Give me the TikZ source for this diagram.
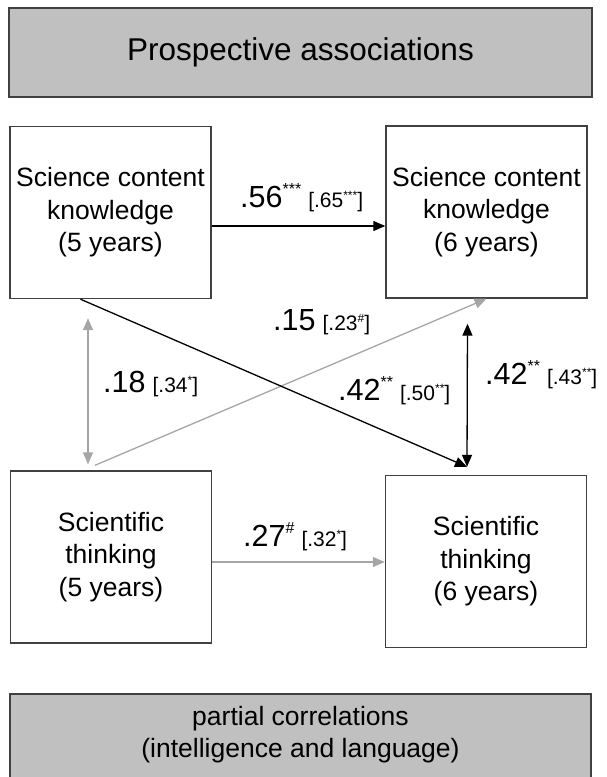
\documentclass[tikz,border=0pt]{standalone}
\usepackage{fontspec}
\setmainfont{Liberation Sans}
\usetikzlibrary{arrows.meta,calc}
\def\boxw{201}
\def\boxh{172}
\def\xleft{110.5}
\def\xright{486.5}
\definecolor{boxline}{HTML}{404040}
\definecolor{bannerfill}{HTML}{C0C0C0}
\definecolor{weakline}{HTML}{A6A6A6}
% Path coefficient: large value, then the bracketed value.
\newcommand{\bigcoef}[2]{{\fontsize{30.5}{30.5}\selectfont #1\raisebox{12.5pt}{\fontsize{16}{16}\selectfont #2}}}
\newcommand{\smallcoef}[2]{{\fontsize{21}{21}\selectfont [#1\raisebox{8pt}{\fontsize{12}{12}\selectfont #2}]}}

\begin{document}
\begin{tikzpicture}[x=1pt, y=-1pt, >={Triangle[length=12pt, width=10pt]},
    measure/.style={draw=boxline, line width=1.4pt, fill=white, minimum width=\boxw pt, minimum height=\boxh pt,
        align=center, font=\fontsize{26.5}{32.5}\selectfont, inner sep=0pt},
    banner/.style={draw=boxline, line width=1.4pt, fill=bannerfill},
    strong/.style={black, line width=1.3pt},
    weak/.style={weakline, line width=1.3pt},
    coef/.style={anchor=base west, inner sep=0pt}]
    \useasboundingbox (0,0) rectangle (606,777);

    % Header and footer bars.
    \draw[banner] (9,8) rectangle (592,97);
    \node[font=\fontsize{31.5}{31.5}\selectfont] (title) at (300.5,52) {Prospective associations};
    \draw[banner] (10,694) rectangle (591,790);
    \node[align=center, font=\fontsize{26.5}{32}\selectfont] (footer) at (300.5,735) {partial correlations\\(intelligence and language)};

    % The four measures.
    \node[measure] (sck5) at (\xleft,212.5) {Science content\\knowledge\\(5 years)};
    \node[measure] (sck6) at (\xright,212) {Science content\\knowledge\\(6 years)};
    \node[measure] (st5) at (111,557) {Scientific\\thinking\\(5 years)};
    \node[measure] (st6) at (486,561.5) {Scientific\\thinking\\(6 years)};

    % Free arrow ends just off the boxes.
    \coordinate (st6tip) at ($(st6.north)+(-19,-8)$);
    \coordinate (sck6low) at ($(sck6.south)+(-19,25)$);
    \coordinate (sck5low) at ($(sck5.south)+(-22.5,19)$);
    \coordinate (st5tip) at ($(st5.north)+(-23,-6)$);
    \coordinate (st5up) at ($(st5.north)+(-16,-5)$);
    \coordinate (sck5foot) at ($(sck5.south)+(-30,0)$);

    % Grey paths.
    \draw[weak, ->] ($(st5.east)+(0,5)$) -- ($(st6.west)+(0,0.5)$);
    \draw[weak, <->] (sck5low) -- (st5tip);
    \draw[weak, ->] (st5up) -- (sck6.south);
    % Black paths.
    \draw[strong, ->] ($(sck5.east)+(0,13.5)$) -- ($(sck6.west)+(0,14)$);
    \draw[strong, ->] (sck5foot) -- (st6tip);
    \draw[strong, <->] (sck6low) -- (st6tip);

    % Coefficients.
    \node[coef] (c56) at (240,207) {\bigcoef{.56}{***}\hspace{7pt}\smallcoef{.65}{***}};
    \node[coef] (c15) at (273,330) {\bigcoef{.15}{}\hspace{7pt}\smallcoef{.23}{\#}};
    \node[coef] (c18) at (103,392) {\bigcoef{.18}{}\hspace{7pt}\smallcoef{.34}{*}};
    \node[coef] (c42a) at (338,400) {\bigcoef{.42}{**}\hspace{7pt}\smallcoef{.50}{**}};
    \node[coef] (c42b) at (485,384) {\bigcoef{.42}{**}\hspace{7pt}\smallcoef{.43}{**}};
    \node[coef] (c27) at (243,546) {\bigcoef{.27}{\#}\hspace{7pt}\smallcoef{.32}{*}};
\end{tikzpicture}
\end{document}
